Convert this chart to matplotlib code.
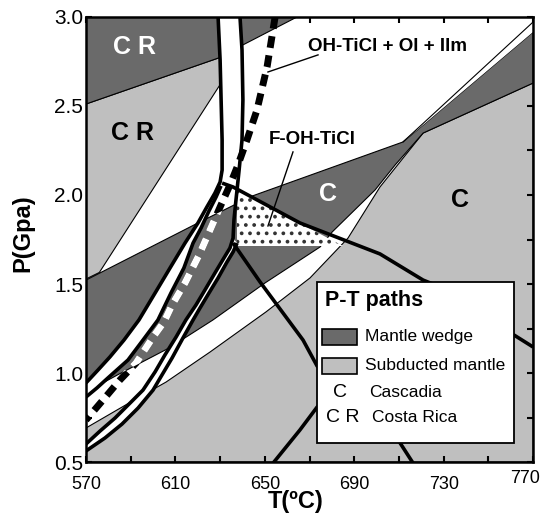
import numpy as np
import matplotlib
matplotlib.use('Agg')
import matplotlib.pyplot as plt
import matplotlib.transforms as mtransforms
from matplotlib.patches import Polygon, Rectangle

plt.rcParams['font.family'] = ['Liberation Sans', 'DejaVu Sans']
plt.rcParams['hatch.color'] = '#333333'
plt.rcParams['hatch.linewidth'] = 1.5

DARK = '#6a6a6a'
LIGHT = '#bfbfbf'

# Costa Rica fields, upper left (T in C, P in GPa)
cr_wedge_T = [570, 570, 630.5, 640.2, 664.4]
cr_wedge_P = [3.0, 2.511, 2.775, 2.843, 3.0]
cr_slab_T = [570, 630.5, 630.5, 576.0, 570]
cr_slab_P = [2.511, 2.775, 2.63, 1.565, 1.528]

# Cascadia mantle wedge band
cas_wedge_T = [570, 620.1, 644.3, 711.8, 770, 770, 720.8, 708.3, 699.3, 680.1,
               674.7, 650.1, 626.8, 607.1, 584.8, 570]
cas_wedge_P = [1.522, 1.843, 1.994, 2.298, 2.916, 2.629, 2.348, 2.169, 2.028, 1.792,
               1.708, 1.506, 1.298, 1.140, 0.994, 0.893]

# Cascadia subducted mantle
cas_slab_T = [770, 720.8, 701.5, 687.2, 670.2, 650.5, 625.5, 605.8, 589.2, 570, 570, 770]
cas_slab_P = [2.629, 2.348, 2.045, 1.758, 1.534, 1.343, 1.118, 0.949, 0.831, 0.691, 0.5, 0.5]

# F-OH-TiCl field
foh_field_T = [637.6, 637.6, 685.0]
foh_field_P = [2.028, 1.713, 1.713]

# paired path boundaries
k1_T = [629.1, 630.0, 630.9, 630.9, 630.0, 627.7, 624.1, 620.1, 614.3, 607.6,
        600.9, 593.7, 587.0, 580.7, 575.4, 570]
k1_P = [3.0, 2.758, 2.309, 2.140, 2.073, 2.011, 1.933, 1.843, 1.730, 1.590,
        1.449, 1.298, 1.185, 1.090, 1.017, 0.944]
k1b_T = [630.4, 628.2, 625.0, 621.5, 617.9, 613.8, 608.0, 602.2, 595.5, 588.8,
         579.8, 574.9, 570]
k1b_P = [2.051, 1.989, 1.910, 1.815, 1.730, 1.590, 1.449, 1.298, 1.185, 1.073,
         0.972, 0.916, 0.865]
k2_T = [638.9, 639.8, 640.2, 639.8, 638.5, 637.1, 636.2, 635.8, 634.4, 631.7, 627.7,
        623.2, 619.2, 614.7, 610.3, 605.3, 600.9, 595.5, 589.7, 583.0, 576.3, 570]
k2_P = [3.0, 2.815, 2.534, 2.309, 2.140, 1.972, 1.860, 1.758, 1.702, 1.646, 1.562,
        1.466, 1.382, 1.298, 1.202, 1.101, 1.006, 0.904, 0.831, 0.747, 0.674, 0.601]
k2b_T = [637.6, 635.8, 633.1, 629.1, 625.0, 621.0, 617.9, 613.4, 608.5, 604.0, 600.0,
         593.3, 586.1, 578.5, 570]
k2b_P = [1.730, 1.680, 1.624, 1.534, 1.449, 1.365, 1.298, 1.197, 1.084, 0.989, 0.904,
         0.803, 0.713, 0.635, 0.562]

# reaction curves
foh_T = [630.9, 635.8, 665.7, 701.5, 720.8, 735]
foh_P = [2.067, 2.045, 1.843, 1.669, 1.522, 1.45]
c3_T = [635.8, 647.9, 667.1, 673.4, 700, 710.5, 716.3]
c3_P = [1.730, 1.511, 1.185, 1.039, 0.75, 0.607, 0.494]
c4_T = [653.7, 665.7, 673.4, 700, 740, 761.5, 770]
c4_P = [0.494, 0.680, 0.809, 1.10, 1.26, 1.213, 1.146]

# OH-TiCl + Ol + Ilm
ilm_T = [654.6, 651.0, 646.5, 642.0, 638.0, 634.4, 630.4, 625.9, 620.6, 614.3, 608.5,
         604.9, 600.0, 592.4, 585.2, 577.6, 570]
ilm_P = [3.0, 2.719, 2.478, 2.309, 2.169, 2.056, 1.944, 1.815, 1.663, 1.506, 1.382,
         1.287, 1.202, 1.056, 0.961, 0.848, 0.736]

thin_T = [711.8, 770]
thin_P = [2.298, 2.972]


def poly(T, P, **kw):
    return Polygon(np.column_stack([T, P]), closed=True, **kw)


fig = plt.figure(figsize=(5.44, 5.21), dpi=100)
ax = fig.add_axes([0.158, 0.1132, 0.822, 0.8542])
ax.set_xlim(570, 770)
ax.set_ylim(0.5, 3.0)

ax.add_patch(poly(cas_slab_T, cas_slab_P, fc=LIGHT, ec='k', lw=0.8, zorder=1))
wedge = poly(cas_wedge_T, cas_wedge_P, fc=DARK, ec='k', lw=0.8, zorder=2)
ax.add_patch(wedge)
ax.add_patch(poly(cr_slab_T, cr_slab_P, fc=LIGHT, ec='k', lw=0.8, zorder=2))
ax.add_patch(poly(cr_wedge_T, cr_wedge_P, fc=DARK, ec='k', lw=0.8, zorder=2))
ax.add_patch(poly(thin_T + [770], thin_P + [2.916], fc='white', ec='none', zorder=2))
ax.plot(thin_T, thin_P, color='k', lw=0.8, zorder=3)
ax.add_patch(poly(foh_field_T, foh_field_P, fc='white', ec='#333333', lw=0,
                  hatch='..', zorder=3))

# white strips between paired boundaries
band_T = k1_T[:5] + k2_T[:6][::-1]
band_P = k1_P[:5] + k2_P[:6][::-1]
ax.add_patch(poly(band_T, band_P, fc='white', ec='none', zorder=4))
ax.add_patch(poly(k1_T[4:] + k1b_T[::-1], k1_P[4:] + k1b_P[::-1], fc='white', ec='none', zorder=4))
ax.add_patch(poly(k2_T[7:] + k2b_T[::-1], k2_P[7:] + k2b_P[::-1], fc='white', ec='none', zorder=4))

for T, P in [(k1_T, k1_P), (k1b_T, k1b_P), (k2_T, k2_P), (k2b_T, k2b_P),
             (foh_T, foh_P), (c3_T, c3_P), (c4_T, c4_P)]:
    ax.plot(T, P, color='k', lw=2.6, solid_capstyle='butt', solid_joinstyle='round', zorder=5)

dash = (0, (1.7, 1.1))
ax.plot(ilm_T, ilm_P, color='k', lw=5, linestyle=dash, dash_capstyle='butt', zorder=6)
wl, = ax.plot(ilm_T, ilm_P, color='white', lw=5, linestyle=dash, dash_capstyle='butt', zorder=7)
wl.set_clip_path(wedge)

# leader lines
ax.plot([673.8, 651.4], [2.787, 2.691], color='k', lw=1.0, zorder=7)
ax.plot([662.6, 651.4], [2.242, 1.826], color='k', lw=1.0, zorder=7)

bold = dict(fontweight='bold', ha='center', va='center', zorder=8)
ax.text(591.9, 2.831, 'C R', color='white', fontsize=18, **bold)
ax.text(591.0, 2.348, 'C R', color='k', fontsize=18, **bold)
ax.text(678.3, 2.006, 'C', color='white', fontsize=18, **bold)
ax.text(737.3, 1.972, 'C', color='k', fontsize=18, **bold)
ax.text(705.0, 2.837, 'OH-TiCl + Ol + Ilm', color='k', fontsize=13.5, **bold)
ax.text(671.1, 2.309, 'F-OH-TiCl', color='k', fontsize=13.5, **bold)

# legend box
tr = ax.transAxes
ax.add_patch(Rectangle((0.517, 0.043), 0.44, 0.362, transform=tr, fc='white',
                       ec='k', lw=1.3, zorder=10))
ax.text(0.535, 0.362, 'P-T paths', transform=tr, fontsize=15.5, fontweight='bold',
        ha='left', va='center', zorder=11)
ax.add_patch(Rectangle((0.528, 0.263), 0.078, 0.036, transform=tr, fc=DARK,
                       ec='k', lw=1.2, zorder=11))
ax.add_patch(Rectangle((0.528, 0.198), 0.078, 0.036, transform=tr, fc=LIGHT,
                       ec='k', lw=1.2, zorder=11))
ax.text(0.624, 0.281, 'Mantle wedge', transform=tr, fontsize=12.5, ha='left', va='center', zorder=11)
ax.text(0.624, 0.216, 'Subducted mantle', transform=tr, fontsize=12.5, ha='left', va='center', zorder=11)
ax.text(0.568, 0.157, 'C', transform=tr, fontsize=14, ha='center', va='center', zorder=11)
ax.text(0.633, 0.157, 'Cascadia', transform=tr, fontsize=12.5, ha='left', va='center', zorder=11)
ax.text(0.575, 0.099, 'C R', transform=tr, fontsize=14, ha='center', va='center', zorder=11)
ax.text(0.640, 0.099, 'Costa Rica', transform=tr, fontsize=12.5, ha='left', va='center', zorder=11)

# axes styling
ax.set_xticks(np.arange(570, 771, 40))
ax.set_xticks(np.arange(570, 771, 20), minor=True)
ax.set_yticks(np.arange(0.5, 3.01, 0.5))
ax.set_yticks(np.arange(0.5, 3.01, 0.25), minor=True)
ax.set_yticklabels(['%.1f' % v for v in np.arange(0.5, 3.01, 0.5)])
ax.tick_params(which='both', direction='in', top=True, right=True, length=4.5, width=1.5)
ax.tick_params(axis='x', labelsize=13, pad=10)
ax.tick_params(axis='y', labelsize=15, pad=2)
for s in ax.spines.values():
    s.set_linewidth(1.8)
    s.set_zorder(12)

# last temperature label sits tight against the figure edge
last = ax.get_xticklabels()[-1]
last.set_ha('right')
last.set_transform(last.get_transform() +
                   mtransforms.ScaledTranslation(5 / 72, 4 / 72, fig.dpi_scale_trans))

ax.set_xlabel('T(ºC)', fontsize=17, fontweight='bold')
ax.xaxis.set_label_coords(0.47, -0.088)
ax.xaxis.label.set_va('center')
ax.set_ylabel('P(Gpa)', fontsize=17, fontweight='bold')
ax.yaxis.set_label_coords(-0.141, 0.515)
ax.yaxis.label.set_va('center')

fig.savefig('out.png', dpi=100)
